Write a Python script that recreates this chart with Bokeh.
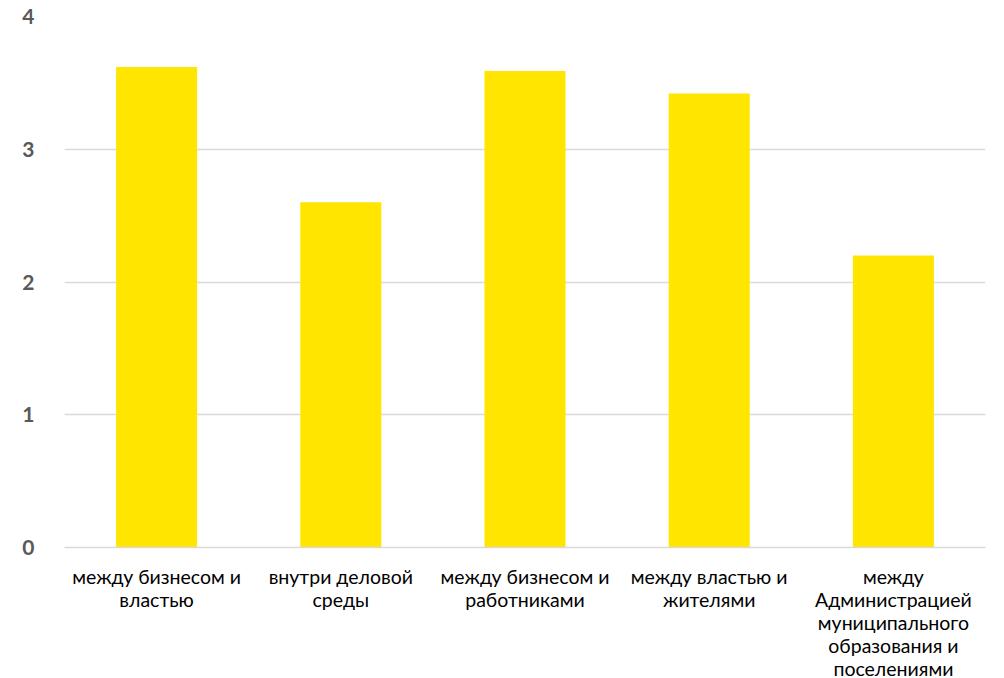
from bokeh.plotting import figure
from bokeh.models import FixedTicker, Range1d
from bokeh.embed import file_html
from bokeh.resources import INLINE

categories = ["между бизнесом и властью", "внутри деловой среды",
              "между бизнесом и работниками", "между властью и жителями",
              "между Администрацией муниципального образования и поселениями"]
tick_labels = ["между бизнесом и\nвластью", "внутри деловой\nсреды",
               "между бизнесом и\nработниками", "между властью и\nжителями",
               "между\nАдминистрацией\nмуниципального\nобразования и\nпоселениями"]
values = [3.62, 2.60, 3.59, 3.42, 2.20]
y_ticks = [0, 1, 2, 3, 4]

xs = list(range(len(categories)))

p = figure(width=988, height=670, output_backend="svg", toolbar_location=None,
           x_range=Range1d(-0.5, len(categories) - 0.5), y_range=Range1d(0, 4),
           min_border_left=64, min_border_right=3, min_border_top=16, min_border_bottom=123)
p.frame_width = 921
p.frame_height = 531
p.outline_line_color = None
p.background_fill_color = "white"
p.border_fill_color = "white"

p.vbar(x=xs, top=values, width=0.44, color="#FFE500", line_color=None)

p.xgrid.visible = False
p.ygrid.ticker = FixedTicker(ticks=y_ticks)
p.ygrid.grid_line_color = "#D9D9D9"
p.ygrid.grid_line_width = 1.5

p.yaxis.ticker = FixedTicker(ticks=y_ticks)
p.yaxis.axis_line_color = None
p.yaxis.major_tick_line_color = None
p.yaxis.minor_tick_line_color = None
p.yaxis.major_label_text_font = "Lato"
p.yaxis.major_label_text_font_style = "bold"
p.yaxis.major_label_text_font_size = "21px"
p.yaxis.major_label_text_color = "#595959"
p.yaxis.major_label_standoff = 24

p.xaxis.ticker = FixedTicker(ticks=xs)
p.xaxis.major_label_overrides = {i: t for i, t in zip(xs, tick_labels)}
p.xaxis.axis_line_color = "#D9D9D9"
p.xaxis.axis_line_width = 1.5
p.xaxis.major_tick_line_color = None
p.xaxis.minor_tick_line_color = None
p.xaxis.major_label_text_font = "Lato"
p.xaxis.major_label_text_font_size = "19.5px"
p.xaxis.major_label_text_line_height = 1.0
p.xaxis.major_label_text_color = "#000000"
p.xaxis.major_label_standoff = 11

open("out.html", "w").write(file_html(p, INLINE))
